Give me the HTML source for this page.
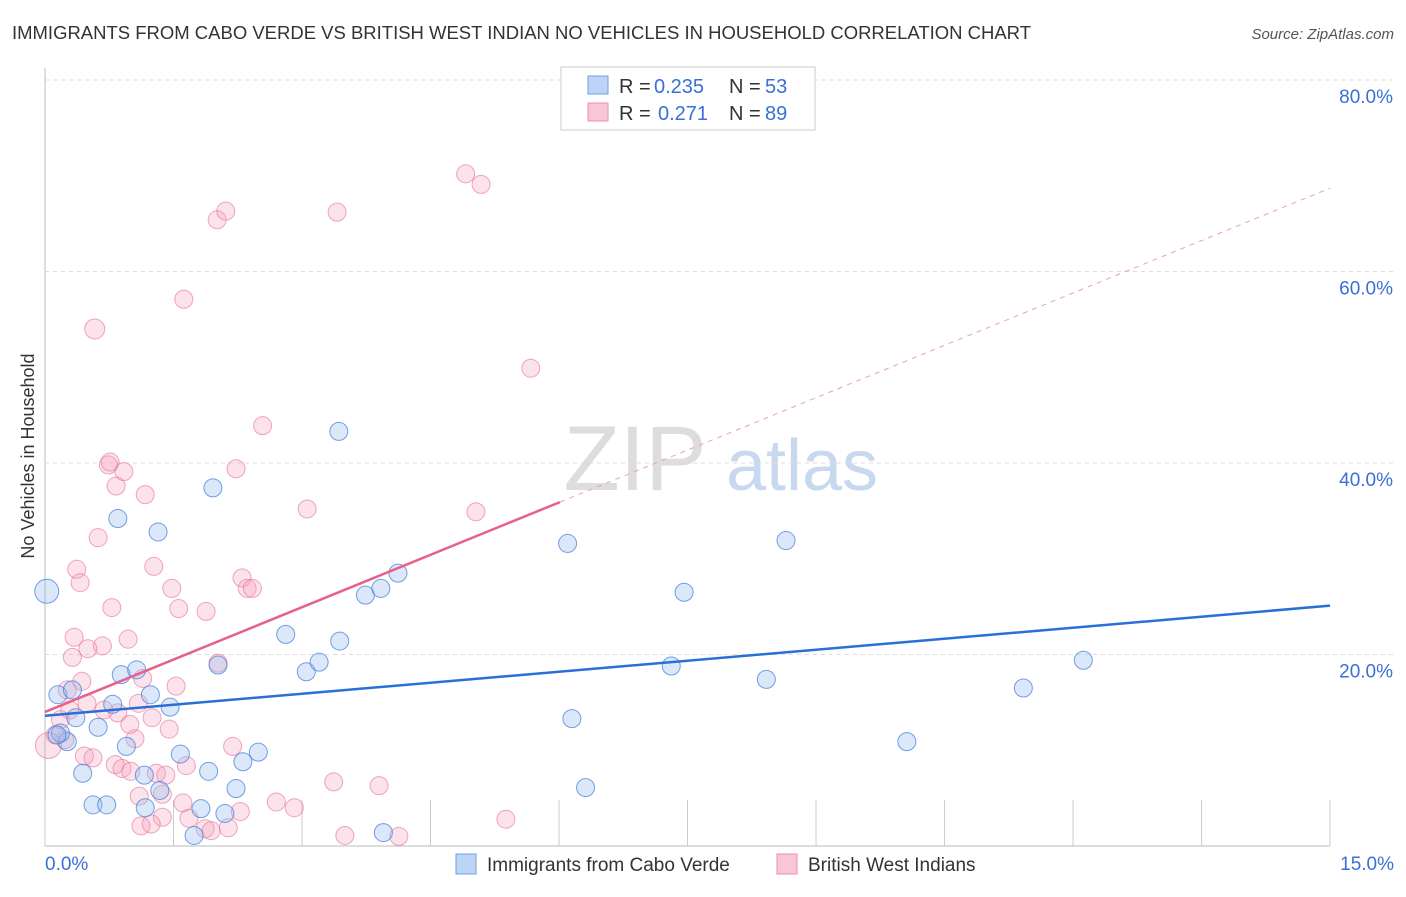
<!DOCTYPE html>
<html><head><meta charset="utf-8"><style>
body{margin:0;background:#fff;font-family:"Liberation Sans",sans-serif;}
svg text{font-family:"Liberation Sans",sans-serif;}
</style></head><body>
<svg id="c" width="1406" height="892">
<text x="12" y="39" font-size="18" fill="#333" textLength="1019" lengthAdjust="spacingAndGlyphs">IMMIGRANTS FROM CABO VERDE VS BRITISH WEST INDIAN NO VEHICLES IN HOUSEHOLD CORRELATION CHART</text>
<text x="1394" y="39" font-size="15" fill="#555" font-style="italic" text-anchor="end">Source: ZipAtlas.com</text>
<text transform="translate(34,456) rotate(-90)" font-size="18" fill="#333" text-anchor="middle">No Vehicles in Household</text>
<g><text x="635" y="490" font-size="92" fill="#ddd" font-family="Liberation Serif" text-anchor="middle">ZIP</text><text x="802" y="490" font-size="72" fill="#c8d8ee" text-anchor="middle">atlas</text></g>
<g id="grid"></g><g id="marks"></g>
<g>
<rect x="561" y="67" width="254" height="63" fill="#fff" stroke="#ccc"/>
<rect x="588" y="76" width="20" height="18" fill="#bcd4f5" stroke="#6f9fe0"/>
<text x="619" y="93" font-size="20" fill="#333">R =</text><text x="654" y="93" font-size="20" fill="#3a6fd8">0.235</text>
<text x="729" y="93" font-size="20" fill="#333">N =</text><text x="765" y="93" font-size="20" fill="#3a6fd8">53</text>
<rect x="588" y="103" width="20" height="18" fill="#f9c6d6" stroke="#ec8fac"/>
<text x="619" y="120" font-size="20" fill="#333">R =</text><text x="658" y="120" font-size="20" fill="#3a6fd8">0.271</text>
<text x="729" y="120" font-size="20" fill="#333">N =</text><text x="765" y="120" font-size="20" fill="#3a6fd8">89</text>
</g>
<g>
<rect x="456" y="854" width="20" height="20" fill="#bcd4f5" stroke="#6f9fe0"/>
<text x="487" y="871" font-size="19" fill="#333">Immigrants from Cabo Verde</text>
<rect x="777" y="854" width="20" height="20" fill="#f9c6d6" stroke="#ec8fac"/>
<text x="808" y="871" font-size="19" fill="#333">British West Indians</text>
</g>
</svg>
<script>
const yTicks=[20,40,60,80];
const xTickLabels=["0.0%","15.0%"];
const blueX=[0.02,0.15,0.32,0.36,0.26,0.44,0.56,0.72,0.62,0.85,0.89,1.07,0.79,0.95,1.23,1.32,1.16,1.17,1.46,1.58,1.82,1.91,1.96,2.02,2.23,2.31,2.49,2.81,3.05,3.20,3.43,3.44,3.74,3.92,4.12,3.95,2.10,1.74,6.10,6.15,6.31,7.31,7.46,8.42,8.65,10.06,11.42,12.12,1.34,0.18,0.14];
const blueY=[26.6,15.8,16.3,13.4,10.9,7.6,4.3,4.3,12.4,34.2,17.9,18.4,14.8,10.4,15.8,32.8,7.4,4.0,14.5,9.6,3.9,7.8,37.4,18.9,6.0,8.8,9.8,22.1,18.2,19.2,43.3,21.4,26.2,26.9,28.5,1.4,3.4,1.1,31.6,13.3,6.1,18.8,26.5,17.4,31.9,10.9,16.5,19.4,5.8,11.8,11.6];
const pinkX=[0.58,1.62,2.01,2.11,3.41,4.91,5.09,5.67,2.54,0.74,0.76,0.92,0.83,1.17,2.23,3.06,5.03,0.62,1.27,0.37,0.41,1.48,2.30,2.36,2.42,0.78,1.56,1.88,0.34,0.97,0.67,0.32,0.50,2.02,1.14,0.43,0.26,1.53,0.49,0.69,0.85,1.09,1.25,1.45,1.05,2.19,0.23,0.12,0.04,0.46,0.56,0.82,0.90,1.00,1.30,1.41,1.65,3.37,3.90,2.70,2.91,1.61,1.10,1.37,1.37,1.12,1.24,1.68,1.87,1.94,2.14,2.28,3.50,4.13,5.38,0.18,0.29,0.99];
const pinkY=[54.0,57.1,65.4,66.3,66.2,70.2,69.1,49.9,43.9,39.8,40.1,39.1,37.6,36.7,39.4,35.2,34.9,32.2,29.2,28.9,27.5,26.9,28.0,26.9,26.9,24.9,24.8,24.5,21.8,21.6,20.9,19.7,20.6,19.1,17.5,17.2,16.3,16.7,14.9,14.2,13.9,14.9,13.4,12.2,11.2,10.4,11.1,11.6,10.5,9.4,9.2,8.5,8.1,7.8,7.6,7.4,8.4,6.7,6.3,4.6,4.0,4.5,5.2,5.4,3.0,2.1,2.3,2.9,1.8,1.6,1.9,3.6,1.1,1.0,2.8,13.2,14.2,12.7];
const blueTrend=[13.6,25.1];
const pinkTrend=[14.0,68.7];
const pinkSolidEnd=6.01;
const X=v=>45+v*85.67, Y=v=>846-v*9.575;
const NS="http://www.w3.org/2000/svg";
const g=document.getElementById('grid'), m=document.getElementById('marks');
function mk(tag,a,p){const e=document.createElementNS(NS,tag);for(const k in a)e.setAttribute(k,a[k]);p.appendChild(e);return e;}
mk('line',{x1:45,y1:68,x2:45,y2:846,stroke:'#bbb'},g);
mk('line',{x1:45,y1:846,x2:1330,y2:846,stroke:'#bbb'},g);
for(let i=0;i<=10;i++){const t=mk('line',{x1:X(i*1.5),y1:800,x2:X(i*1.5),y2:846,stroke:'#ccc'},g);

}
yTicks.forEach(v=>{const l=mk('line',{x1:45,y1:Y(v),x2:1394,y2:Y(v),stroke:'#ddd','stroke-dasharray':'4,4'},g);


const t=mk('text',{x:1393,y:Y(v)+23,'font-size':19,fill:'#3a6fd8','text-anchor':'end'},g);t.textContent=v.toFixed(1)+'%';

});
const xl0=mk('text',{x:45,y:870,'font-size':19,fill:'#3a6fd8'},g);xl0.textContent=xTickLabels[0];


const xl1=mk('text',{x:1394,y:870,'font-size':19,fill:'#3a6fd8','text-anchor':'end'},g);xl1.textContent=xTickLabels[1];


pinkX.forEach((x,i)=>{const big=(i===0||i===48);const c=mk('circle',{cx:X(x),cy:Y(pinkY[i]),r:big?(i===48?13:10):9,fill:'rgba(244,160,188,0.3)',stroke:'rgba(232,120,155,0.65)','stroke-width':1},m);

});
blueX.forEach((x,i)=>{const c=mk('circle',{cx:X(x),cy:Y(blueY[i]),r:i===0?12:9,fill:'rgba(150,190,240,0.35)',stroke:'rgba(60,120,215,0.7)','stroke-width':1},m);

});
const pAt=v=>pinkTrend[0]+(pinkTrend[1]-pinkTrend[0])*v/15;
const pd=mk('line',{x1:X(pinkSolidEnd),y1:Y(pAt(pinkSolidEnd)),x2:X(15),y2:Y(pinkTrend[1]),stroke:'#e8a0b8','stroke-dasharray':'5,5','stroke-width':1},m);


const ps=mk('line',{x1:X(0),y1:Y(pinkTrend[0]),x2:X(pinkSolidEnd),y2:Y(pAt(pinkSolidEnd)),stroke:'#e8608c','stroke-width':2.5},m);


const bl=mk('line',{x1:X(0),y1:Y(blueTrend[0]),x2:X(15),y2:Y(blueTrend[1]),stroke:'#2a6fd6','stroke-width':2.5},m);


</script>
</body></html>
